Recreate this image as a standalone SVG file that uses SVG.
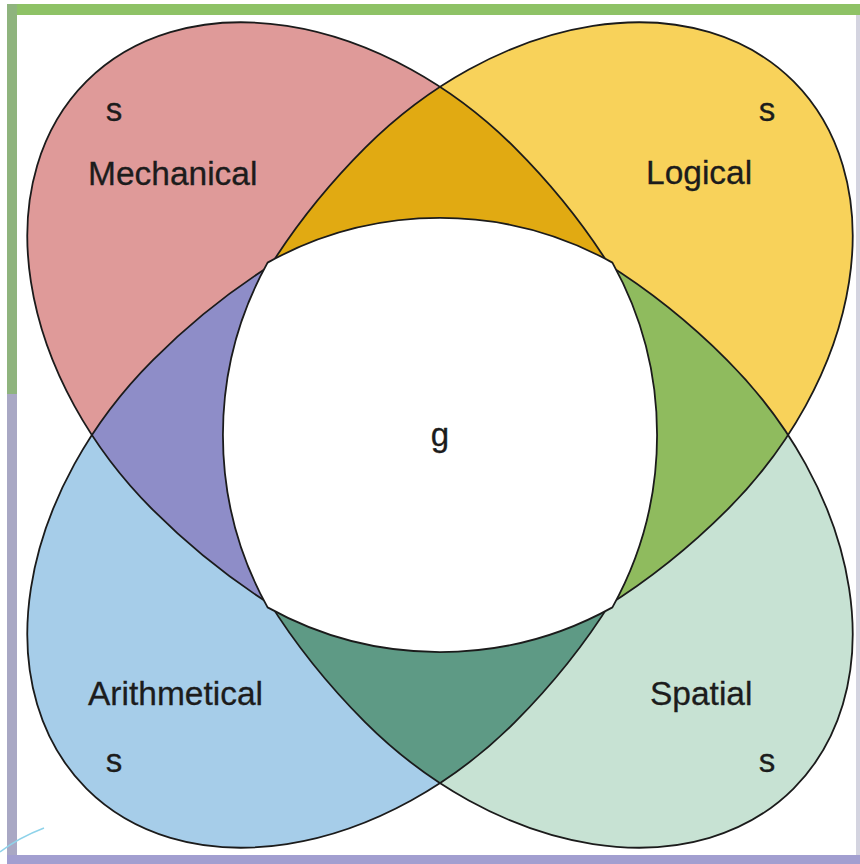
<svg xmlns="http://www.w3.org/2000/svg" xmlns:xlink="http://www.w3.org/1999/xlink" width="860" height="864" viewBox="0 0 860 864">
  <style>
    .outline { fill: none; stroke: #1b1b1b; stroke-width: 1.8; }
    .lbl { font-family: "Liberation Sans", Arial, Helvetica, sans-serif; font-size: 33.5px; fill: #1c1c1c; stroke: #1c1c1c; stroke-width: 0.3; }
    .s { font-family: "Liberation Sans", Arial, Helvetica, sans-serif; font-size: 33px; fill: #1c1c1c; text-anchor: middle; stroke: #1c1c1c; stroke-width: 0.3; }
  </style>
  <defs>
    <path id="drop" d="M612.18,269.89 A427,256 45 0 0 514.95,147.91 A350,256 45 0 0 86.45,81.45 A350,256 45 0 0 152.91,509.95 A427,256 45 0 0 274.89,607.18 L496.57,491.57 Z"/>
    <clipPath id="clipMech"><use xlink:href="#drop" href="#drop"/></clipPath>
    <clipPath id="clipLog"><use xlink:href="#drop" href="#drop" transform="rotate(90 440 435)"/></clipPath>
    <clipPath id="clipSpa"><use xlink:href="#drop" href="#drop" transform="rotate(180 440 435)"/></clipPath>
  </defs>

  <!-- frame -->
  <g id="frame">
    <rect x="0" y="0" width="860" height="864" fill="#ffffff"/>
    <rect x="7" y="4" width="853" height="11" fill="#8ec266"/>
    <rect x="7" y="4" width="10" height="390" fill="#8fb47e"/>
    <rect x="7" y="394" width="10" height="470" fill="#a9a8c4"/>
    <rect x="7" y="855" width="853" height="9" fill="#a29fd0"/>
    <rect x="856" y="15" width="4" height="840" fill="#d4d4e0"/>
    <path d="M0,852 Q18,838 44,828" fill="none" stroke="#8fd3ea" stroke-width="1.5"/>
  </g>

  <!-- main regions -->
  <g id="mechanical"><use xlink:href="#drop" href="#drop" fill="#df9a99"/></g>
  <g id="logical"><use xlink:href="#drop" href="#drop" transform="rotate(90 440 435)" fill="#f8d25a"/></g>
  <g id="spatial"><use xlink:href="#drop" href="#drop" transform="rotate(180 440 435)" fill="#c7e2d3"/></g>
  <g id="arithmetical"><use xlink:href="#drop" href="#drop" transform="rotate(270 440 435)" fill="#a6cde9"/></g>

  <!-- overlaps -->
  <g id="mech-log" clip-path="url(#clipMech)"><use xlink:href="#drop" href="#drop" transform="rotate(90 440 435)" fill="#e1aa12"/></g>
  <g id="mech-ari" clip-path="url(#clipMech)"><use xlink:href="#drop" href="#drop" transform="rotate(270 440 435)" fill="#8e8dc8"/></g>
  <g id="log-spa" clip-path="url(#clipLog)"><use xlink:href="#drop" href="#drop" transform="rotate(180 440 435)" fill="#8fbb5e"/></g>
  <g id="spa-ari" clip-path="url(#clipSpa)"><use xlink:href="#drop" href="#drop" transform="rotate(270 440 435)" fill="#5e9a85"/></g>

  <!-- outlines -->
  <g id="connectors">
    <use xlink:href="#drop" href="#drop" class="outline"/>
    <use xlink:href="#drop" href="#drop" class="outline" transform="rotate(90 440 435)"/>
    <use xlink:href="#drop" href="#drop" class="outline" transform="rotate(180 440 435)"/>
    <use xlink:href="#drop" href="#drop" class="outline" transform="rotate(270 440 435)"/>
  </g>

  <!-- general factor -->
  <g id="g-factor">
    <path d="M267.6,262.6 A355,355 0 0 1 612.4,262.6 A355,355 0 0 1 612.4,607.4 A355,355 0 0 1 267.6,607.4 A355,355 0 0 1 267.6,262.6 Z" fill="#ffffff" stroke="#1b1b1b" stroke-width="1.8"/>
    <text class="s" x="440" y="446">g</text>
  </g>

  <g id="labels">
    <text class="lbl" x="88" y="185">Mechanical</text>
    <text class="s" x="114" y="121">s</text>
    <text class="lbl" x="646" y="184">Logical</text>
    <text class="s" x="767" y="121">s</text>
    <text class="lbl" x="88" y="705">Arithmetical</text>
    <text class="s" x="114" y="772">s</text>
    <text class="lbl" x="650" y="705">Spatial</text>
    <text class="s" x="767" y="772">s</text>
  </g>
</svg>
